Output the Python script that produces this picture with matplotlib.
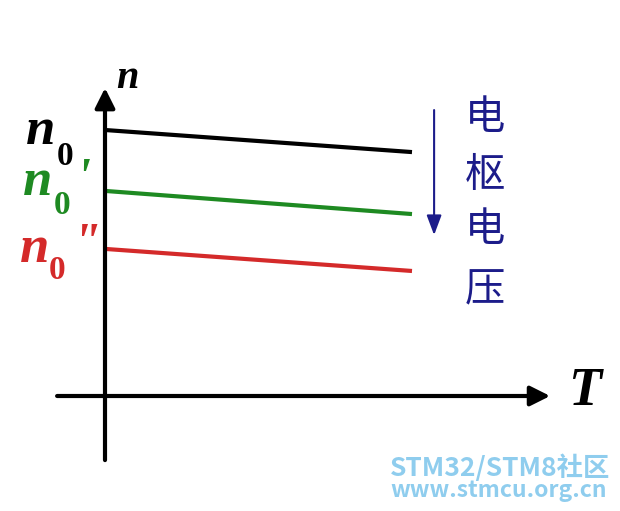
import matplotlib
matplotlib.use("Agg")
import matplotlib.pyplot as plt

# speed vs torque for three armature voltages (n in units of n0, T arbitrary)
T_line = [0.0, 1.0]
n_black = [1.0, 0.917]   # n0
n_green = [0.771, 0.684] # n0'
n_red = [0.553, 0.470]   # n0''

W, H = 620, 511

def P(x, y):
    # pixel position -> axes fraction (for text placement)
    return x / W, 1 - y / H

fig = plt.figure(figsize=(W / 100, H / 100), dpi=100)
ax = fig.add_axes([0, 0, 1, 1])
ax.set_xlim(-105 / 307, 515 / 307)
ax.set_ylim(-115 / 266, 396 / 266)
ax.axis('off')

ax.plot(T_line, n_black, color='black', lw=3, solid_capstyle='butt')
ax.plot(T_line, n_green, color='#1e8a22', lw=3, solid_capstyle='butt')
ax.plot(T_line, n_red, color='#d42a2a', lw=3, solid_capstyle='butt')

# coordinate axes with arrow heads
axis_arrow = dict(arrowstyle='-|>,head_length=0.6,head_width=0.3', lw=3,
                  color='black', shrinkA=0, shrinkB=0, mutation_scale=20)
ax.annotate('', xy=(1.45, 0), xytext=(-0.156, 0), arrowprops=axis_arrow)
ax.annotate('', xy=(0, 1.158), xytext=(0, -0.241), arrowprops=axis_arrow)

# blue arrow: decreasing armature voltage
ax.annotate('', xy=(1.072, 0.605), xytext=(1.072, 1.075),
            arrowprops=dict(arrowstyle='-|>,head_length=0.8,head_width=0.3', lw=1.5,
                            color='#1c1c8a', shrinkA=0, shrinkB=0, mutation_scale=15))

serif = dict(family='Liberation Serif', weight='bold', transform=ax.transAxes)
ax.text(*P(127, 88), 'n', fontsize=29, style='italic', ha='center', va='baseline', **serif)
ax.text(*P(585, 405), 'T', fontsize=39, style='italic', ha='center', va='baseline', **serif)

labels = [
    # color, n pos, 0 pos, prime text, prime pos
    ('black', (41, 144), (65, 165), '', (0, 0)),
    ('#1e8a22', (38, 195), (62, 214), "'", (83, 157)),
    ('#d42a2a', (35, 262), (57, 279), '"', (86, 222)),
]
for c, npos, zpos, prime, ppos in labels:
    ax.text(*P(*npos), 'n', fontsize=38, style='italic', color=c,
            ha='center', va='baseline', **serif)
    ax.text(*P(*zpos), '0', fontsize=24, color=c, ha='center', va='baseline', **serif)
    if prime:
        ax.text(*P(*ppos), prime, fontsize=36, style='italic', color=c,
                ha='center', va='top', **serif)

cjk = ['Noto Sans CJK SC', 'DejaVu Sans']
for ch, y in zip('电枢电压', [118, 176, 230, 290]):
    ax.text(*P(485, y), ch, fontsize=29, family=cjk, color='#1c1c8a',
            ha='center', va='center', transform=ax.transAxes)

# watermark
ax.text(*P(390, 476), 'STM32/STM8社区', fontsize=19, family=cjk, weight='bold',
        color='#8fcdee', ha='left', va='baseline', transform=ax.transAxes)
ax.text(*P(390, 497), 'www.stmcu.org.cn', fontsize=16.5, family=cjk, weight='bold',
        color='#8fcdee', ha='left', va='baseline', transform=ax.transAxes)

fig.savefig('out.png', dpi=100)
